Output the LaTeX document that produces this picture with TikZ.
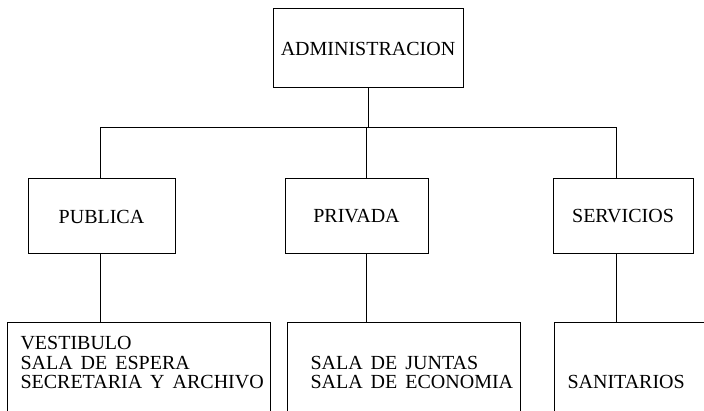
\documentclass[tikz,border=0pt]{standalone}
\usepackage{fontspec}
\setmainfont{Liberation Serif}
\newcommand{\wsp}{\hspace{8pt}}

\begin{document}
\begin{tikzpicture}[x=1pt, y=-1pt, line width=1pt,
        unit/.style={rectangle, draw=black, minimum height=75pt, inner sep=0pt, font=\fontsize{20}{19.5}\selectfont},
        roombox/.style={rectangle, draw=black, anchor=north west, minimum height=130pt, inner sep=0pt},
        listing/.style={anchor=base west, align=left, inner sep=0pt, font=\fontsize{20}{19.5}\selectfont}]
        \useasboundingbox (0,0) rectangle (704,411);
        \clip (0,0) rectangle (704,411);

        \node[unit, minimum width=190pt, minimum height=79pt] (admin) at (368,48.5) {ADMINISTRACION};
        \node[unit, minimum width=147pt] (pub) at (101.5,216.5) {PUBLICA};
        \node[unit, minimum width=143pt] (priv) at (356.5,216.5) {PRIVADA};
        \node[unit, minimum width=140pt] (serv) at (623,216.5) {SERVICIOS};

        \node[roombox, minimum width=263pt] (vest) at (7,322) {};
        \node[roombox, minimum width=233pt] (juntas) at (287,322) {};
        \node[roombox, minimum width=180pt] (sanit) at (554,322) {};

        \node[listing] (vesttxt) at (20,388.5) {VESTIBULO\\SALA\wsp DE\wsp ESPERA\\SECRETARIA\wsp Y\wsp ARCHIVO};
        \node[listing] (juntastxt) at (310,388.5) {SALA\wsp DE\wsp JUNTAS\\SALA\wsp DE\wsp ECONOMIA};
        \node[listing] (sanittxt) at (567,388.5) {SANITARIOS};

        \coordinate (jpub) at (100,128);
        \coordinate (jpriv) at (366,128);
        \coordinate (jserv) at (616,128);

        \draw (admin.south) -- (admin.south |- jpriv);
        \draw (jpub |- pub.north) -- (jpub) -- (jserv) -- (jserv |- serv.north);
        \draw (jpriv) -- (jpriv |- priv.north);
        \draw (jpub |- pub.south) -- (jpub |- vest.north);
        \draw (jpriv |- priv.south) -- (jpriv |- juntas.north);
        \draw (jserv |- serv.south) -- (jserv |- sanit.north);
    \end{tikzpicture}
\end{document}
